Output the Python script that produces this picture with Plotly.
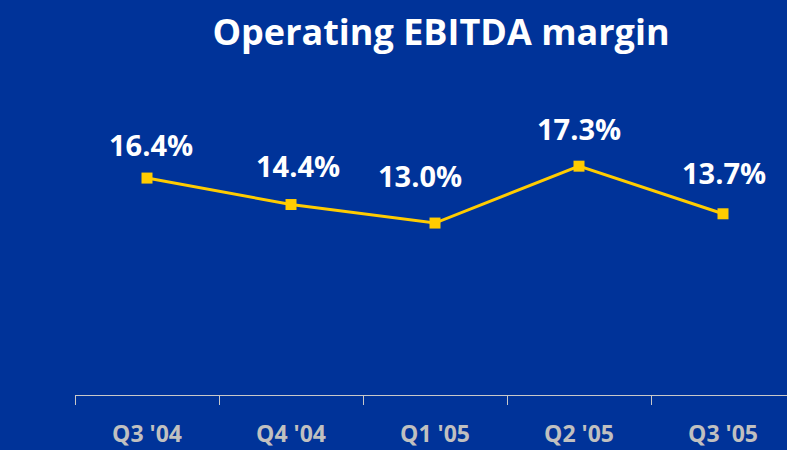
import plotly.graph_objects as go

quarters = ["Q3 '04", "Q4 '04", "Q1 '05", "Q2 '05", "Q3 '05"]
margin_pct = [16.4, 14.4, 13.0, 17.3, 13.7]
value_labels = ["16.4%", "14.4%", "13.0%", "17.3%", "13.7%"]

# label offsets (pixels) relative to each point
label_dx = [4, 7, -15, 0, 1]
label_dy = [34, 39, 48, 38, 41]

BG = "#003399"
YELLOW = "#FFCC00"

fig = go.Figure()
fig.add_trace(go.Scatter(
    x=quarters, y=margin_pct, mode="lines+markers",
    line=dict(color=YELLOW, width=3),
    marker=dict(symbol="square", size=11, color=YELLOW),
    hoverinfo="skip", showlegend=False, cliponaxis=False,
))

for q, v, t, dx, dy in zip(quarters, margin_pct, value_labels, label_dx, label_dy):
    fig.add_annotation(x=q, y=v, text=t, showarrow=False,
                       xshift=dx, yshift=dy, xanchor="center", yanchor="middle",
                       font=dict(family="Open Sans", size=29, color="white", weight="bold"))

fig.update_layout(
    width=787, height=450,
    paper_bgcolor=BG, plot_bgcolor=BG,
    margin=dict(l=75, r=0, t=104, b=55),
    title=dict(text="<b>Operating EBITDA margin</b>", x=441/787, xref="container",
               xanchor="center", y=1 - 32/450, yref="container", yanchor="middle",
               font=dict(family="Open Sans", size=36, color="white")),
    xaxis=dict(
        type="category", range=[-0.5, 4.5 - 8/144],
        showline=True, linecolor="#C8C8C8", linewidth=1,
        ticks="outside", tickson="boundaries", ticklen=9, tickcolor="#C8C8C8", tickwidth=1,
        showgrid=False, zeroline=False,
        tickfont=dict(family="Open Sans", size=23, color="#C0C0C0", weight="bold"),
        ticklabelstandoff=18,
    ),
    yaxis=dict(range=[0, 22], visible=False, showgrid=False, zeroline=False),
)

fig.write_html("out.html", config={"displayModeBar": False},
               post_script="document.body.style.margin='0';")
